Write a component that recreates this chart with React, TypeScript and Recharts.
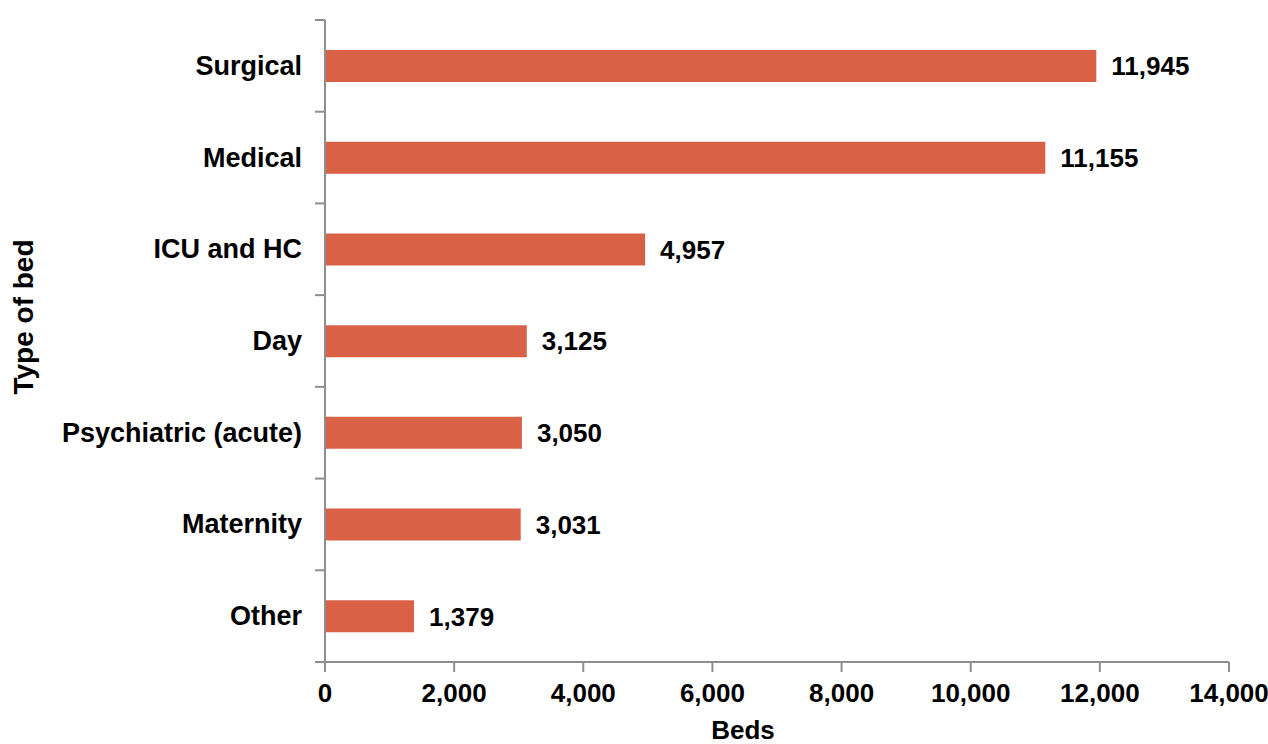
import React from 'react';
import { Bar, BarChart, LabelList, XAxis, YAxis } from 'recharts';

const BED_TYPES = ['Surgical', 'Medical', 'ICU and HC', 'Day', 'Psychiatric (acute)', 'Maternity', 'Other'];
const BED_COUNTS = [11945, 11155, 4957, 3125, 3050, 3031, 1379];
const BED_TICKS = [0, 2000, 4000, 6000, 8000, 10000, 12000, 14000];

const BAR_COLOR = '#D86146';
const AXIS_COLOR = '#8E8E8E';
const FONT = '"Liberation Sans", Arial, sans-serif';
const Y_TICK_MARGIN = 23;
const Y_TICK_LEN = 10;

const data = BED_TYPES.map((type, i) => ({ type, beds: BED_COUNTS[i] }));

const fmt = (v: number) => Number(v).toLocaleString('en-US');

const tickStyle = { fill: '#000', fontSize: 26, fontWeight: 700, fontFamily: FONT };

// category label plus Excel-style tick marks on the band boundaries
function CatTick({ x, y, payload, index, visibleTicksCount }: any) {
  const half = payload?.offset ?? 0;
  const axisX = x + Y_TICK_MARGIN;
  const isLast = index === (visibleTicksCount ?? BED_TYPES.length) - 1;
  return (
    <g>
      <line x1={axisX - Y_TICK_LEN} x2={axisX} y1={y - half} y2={y - half} stroke={AXIS_COLOR} strokeWidth={2} />
      {isLast && (
        <line x1={axisX - Y_TICK_LEN} x2={axisX} y1={y + half} y2={y + half} stroke={AXIS_COLOR} strokeWidth={2} />
      )}
      <text x={x} y={y} textAnchor="end" dominantBaseline="central" {...tickStyle} fontSize={27}>
        {payload.value}
      </text>
    </g>
  );
}

function YTitle({ viewBox }: any) {
  const cx = viewBox.x + 23;
  const cy = viewBox.y + viewBox.height / 2 - 24;
  return (
    <text
      x={cx}
      y={cy}
      transform={`rotate(-90 ${cx} ${cy})`}
      textAnchor="middle"
      dominantBaseline="central"
      fill="#000"
      fontSize={28}
      fontWeight={700}
      fontFamily={FONT}
    >
      Type of bed
    </text>
  );
}

export default function App() {
  return (
    <div style={{ position: 'absolute', left: 0, top: 0, background: '#fff' }}>
      <BarChart
        width={1268}
        height={744}
        data={data}
        layout="vertical"
        margin={{ top: 20, right: 39, bottom: 0, left: 0 }}
        barSize={32}
      >
        <XAxis
          type="number"
          dataKey="beds"
          domain={[0, 14000]}
          ticks={BED_TICKS}
          tickFormatter={fmt}
          height={82}
          axisLine={{ stroke: AXIS_COLOR, strokeWidth: 2 }}
          tickLine={{ stroke: AXIS_COLOR, strokeWidth: 2 }}
          tickSize={10}
          tickMargin={12}
          tick={tickStyle}
          interval={0}
          label={{
            value: 'Beds',
            position: 'insideBottom',
            offset: 5,
            dx: -34,
            fill: '#000',
            fontSize: 26,
            fontWeight: 700,
            fontFamily: FONT,
          }}
        />
        <YAxis
          type="category"
          dataKey="type"
          width={325}
          axisLine={{ stroke: AXIS_COLOR, strokeWidth: 2 }}
          tickLine={false}
          tickSize={0}
          tickMargin={Y_TICK_MARGIN}
          tick={<CatTick />}
          interval={0}
          label={<YTitle />}
        />
        <Bar dataKey="beds" fill={BAR_COLOR} isAnimationActive={false}>
          <LabelList
            dataKey="beds"
            position="right"
            offset={15}
            formatter={(v: any) => fmt(v)}
            fill="#000"
            fontSize={26}
            fontWeight={700}
            fontFamily={FONT}
          />
        </Bar>
      </BarChart>
    </div>
  );
}
